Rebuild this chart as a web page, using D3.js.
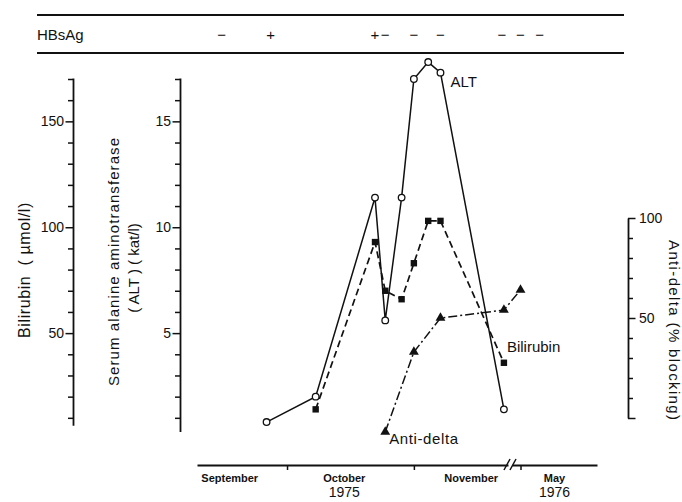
<!DOCTYPE html>
<html>
<head>
<meta charset="utf-8">
<script src="https://cdn.jsdelivr.net/npm/d3@7"></script>
<style>
  body { margin: 0; background: #fff; }
  svg text { font-family: "Liberation Sans", Arial, sans-serif; fill: #111; }
</style>
</head>
<body>
<script>
// dates as "yyyy-mm-dd", the day may be fractional (half a day)
const altDates = ["1975-09-26", "1975-10-08", "1975-10-22.5", "1975-10-25", "1975-10-29", "1975-11-01", "1975-11-04.5", "1975-11-07.5", "1975-11-23"];
const altValues = [0.8, 2.0, 11.4, 5.6, 11.4, 17.0, 17.8, 17.3, 1.4];

const biliDates = ["1975-10-08", "1975-10-22.5", "1975-10-25", "1975-10-29", "1975-11-01", "1975-11-04.5", "1975-11-07.5", "1975-11-23"];
const biliValues = [14, 93, 70, 66, 83, 103, 103, 36];

const antiDates = ["1975-10-25", "1975-11-01", "1975-11-07.5", "1975-11-23", "1976-05-01"];
const antiValues = [-7, 33, 50, 54, 64];

const hbsDates = ["1975-09-15", "1975-09-27", "1975-10-22.5", "1975-10-25", "1975-11-01", "1975-11-07.5", "1975-11-22.5", "1976-05-01", "1976-05-05.5"];
const hbsSigns = ["\u2212", "+", "+", "\u2212", "\u2212", "\u2212", "\u2212", "\u2212", "\u2212"];

const monthLabels = ["September", "October", "November", "May"];
const monthDates = ["1975-09-17", "1975-10-15", "1975-11-15", "1976-05-09"];
const yearLabels = ["1975", "1976"];
const yearDates = ["1975-10-15", "1976-05-09"];

const biliTicks = d3.range(10, 171, 10);
const altTicks = d3.range(1, 18, 1);
const antiTicks = d3.range(0, 101, 10);

function parseDay(s) {
  const [y, m, d] = s.split("-").map(Number);
  return new Date(Date.UTC(y, m - 1, 0) + d * 864e5);
}

const w = 682;
const h = 502;

const svg = d3.select("body")
  .append("svg")
  .attr("width", w)
  .attr("height", h);

// scales
const yBili = d3.scaleLinear().domain([0, 170]).range([439, 79]);
const yAlt = d3.scaleLinear().domain([0, 17]).range([439, 79]);
const yAnti = d3.scaleLinear().domain([0, 100]).range([418, 218]);

// broken time axis: autumn 1975, then May 1976
const x1 = d3.scaleUtc().domain([parseDay("1975-09-09"), parseDay("1975-11-24")]).range([197, 508]);
const x2 = d3.scaleUtc().domain([parseDay("1976-04-29"), parseDay("1976-05-19")]).range([512, 597]);
const cut = parseDay("1976-01-01");
const x = d => (d < cut ? x1(d) : x2(d));

const axisY = 465;

// header table
const header = svg.append("g");
[15, 53].forEach(yy => {
  header.append("line")
    .attr("x1", 37).attr("x2", 624)
    .attr("y1", yy).attr("y2", yy)
    .attr("stroke", "#111").attr("stroke-width", 1.8);
});
header.append("text")
  .attr("x", 37).attr("y", 40)
  .attr("font-size", 15)
  .text("HBsAg");
header.selectAll(".sign")
  .data(hbsSigns).enter()
  .append("text")
  .attr("x", (d, i) => x(parseDay(hbsDates[i])))
  .attr("y", 40)
  .attr("text-anchor", "middle")
  .attr("font-size", 15)
  .text(d => d);

// left axes
function styleAxis(g, major, attr) {
  g.select(".domain").attr("stroke", "#111").attr("stroke-width", 1.8);
  g.selectAll(".tick line").attr("stroke", "#111").attr("stroke-width", 1.5);
  g.selectAll(".tick text").attr("font-size", 14).attr("fill", "#111");
  g.selectAll(".tick").filter(d => major(d)).select("line")
    .attr(attr, function () { return +d3.select(this).attr(attr) * 1.5; });
}

const biliAxisScale = yBili.copy().domain([6.5, 170.5]).range([yBili(6.5), yBili(170.5)]);
svg.append("g")
  .attr("transform", "translate(73,0)")
  .call(d3.axisLeft(biliAxisScale).tickValues(biliTicks).tickSize(5).tickSizeOuter(0).tickPadding(4)
    .tickFormat(d => (d % 50 === 0 ? d : "")))
  .call(g => styleAxis(g, d => d % 50 === 0, "x2"));

const altAxisScale = yAlt.copy().domain([0.35, 17.05]).range([yAlt(0.35), yAlt(17.05)]);
svg.append("g")
  .attr("transform", "translate(180,0)")
  .call(d3.axisLeft(altAxisScale).tickValues(altTicks).tickSize(5).tickSizeOuter(0).tickPadding(4)
    .tickFormat(d => (d % 5 === 0 ? d : "")))
  .call(g => styleAxis(g, d => d % 5 === 0, "x2"));

// right axis
svg.append("g")
  .attr("transform", "translate(628,0)")
  .call(d3.axisRight(yAnti).tickValues(antiTicks).tickSize(5).tickSizeOuter(0).tickPadding(6)
    .tickFormat(d => (d % 50 === 0 && d > 0 ? d : "")))
  .call(g => styleAxis(g, d => d % 50 === 0, "x2"));

// axis titles
svg.append("text")
  .attr("transform", "translate(30,270) rotate(-90)")
  .attr("text-anchor", "middle")
  .attr("font-size", 16)
  .attr("letter-spacing", 0.6)
  .style("white-space", "pre")
  .text("Bilirubin  ( \u00b5mol/l)");
svg.append("text")
  .attr("transform", "translate(119,262) rotate(-90)")
  .attr("text-anchor", "middle")
  .attr("font-size", 15)
  .attr("textLength", 248).attr("lengthAdjust", "spacing")
  .text("Serum alanine aminotransferase");
svg.append("text")
  .attr("transform", "translate(139,268) rotate(-90)")
  .attr("text-anchor", "middle")
  .attr("font-size", 15)
  .style("white-space", "pre")
  .text("( ALT ) ( kat/l)");
svg.append("text")
  .attr("transform", "translate(669,330) rotate(90)")
  .attr("text-anchor", "middle")
  .attr("font-size", 15)
  .attr("textLength", 180).attr("lengthAdjust", "spacing")
  .text("Anti-delta (% blocking)");

// x axis (two pieces with a break)
const monthTicks1 = [parseDay("1975-10-01"), parseDay("1975-11-01")];
const monthTicks2 = [parseDay("1976-05-01")];
svg.append("g")
  .attr("transform", `translate(0,${axisY})`)
  .call(d3.axisBottom(x1).tickValues(monthTicks1).tickSize(5).tickSizeOuter(0).tickFormat(""))
  .call(g => styleAxis(g, () => false, "y2"));
svg.append("g")
  .attr("transform", `translate(0,${axisY})`)
  .call(d3.axisBottom(x2).tickValues(monthTicks2).tickSize(5).tickSizeOuter(0).tickFormat(""))
  .call(g => styleAxis(g, () => false, "y2"));

[x1.range()[1] - 1, x2.range()[0] + 1].forEach(bx => {
  svg.append("line")
    .attr("x1", bx - 3).attr("y1", axisY + 5)
    .attr("x2", bx + 3).attr("y2", axisY - 6)
    .attr("stroke", "#111").attr("stroke-width", 1.5);
});

svg.selectAll(".month")
  .data(monthLabels).enter()
  .append("text")
  .attr("x", (d, i) => x(parseDay(monthDates[i])))
  .attr("y", axisY + 17)
  .attr("text-anchor", "middle")
  .attr("font-size", 11)
  .attr("font-weight", "bold")
  .text(d => d);

svg.selectAll(".year")
  .data(yearLabels).enter()
  .append("text")
  .attr("x", (d, i) => x(parseDay(yearDates[i])))
  .attr("y", axisY + 32)
  .attr("text-anchor", "middle")
  .attr("font-size", 14)
  .text(d => d);

// series
const alt = altDates.map((d, i) => ({ date: parseDay(d), value: altValues[i] }));
const bili = biliDates.map((d, i) => ({ date: parseDay(d), value: biliValues[i] }));
const anti = antiDates.map((d, i) => ({ date: parseDay(d), value: antiValues[i] }));

const plot = svg.append("g");

plot.append("path")
  .datum(anti)
  .attr("fill", "none")
  .attr("stroke", "#111")
  .attr("stroke-width", 1.5)
  .attr("stroke-dasharray", "9,3,2,3")
  .attr("d", d3.line().x(d => x(d.date)).y(d => yAnti(d.value)));

plot.append("path")
  .datum(bili)
  .attr("fill", "none")
  .attr("stroke", "#111")
  .attr("stroke-width", 1.7)
  .attr("stroke-dasharray", "7,4")
  .attr("d", d3.line().x(d => x(d.date)).y(d => yBili(d.value)));

plot.append("path")
  .datum(alt)
  .attr("fill", "none")
  .attr("stroke", "#111")
  .attr("stroke-width", 1.5)
  .attr("d", d3.line().x(d => x(d.date)).y(d => yAlt(d.value)));

plot.selectAll(".tri")
  .data(anti).enter()
  .append("path")
  .attr("transform", d => `translate(${x(d.date)},${yAnti(d.value)})`)
  .attr("d", d3.symbol().type(d3.symbolTriangle).size(42))
  .attr("fill", "#111");

plot.selectAll(".sq")
  .data(bili).enter()
  .append("rect")
  .attr("x", d => x(d.date) - 3.2)
  .attr("y", d => yBili(d.value) - 3.2)
  .attr("width", 6.4)
  .attr("height", 6.4)
  .attr("fill", "#111");

plot.selectAll(".circ")
  .data(alt).enter()
  .append("circle")
  .attr("cx", d => x(d.date))
  .attr("cy", d => yAlt(d.value))
  .attr("r", 3.3)
  .attr("fill", "#fff")
  .attr("stroke", "#111")
  .attr("stroke-width", 1.3);

// series labels, placed beside a point of each series
const altLab = alt[7];
svg.append("text")
  .attr("x", x(altLab.date) + 10)
  .attr("y", yAlt(altLab.value) + 14)
  .attr("font-size", 15)
  .text("ALT");

const biliLab = bili[bili.length - 1];
svg.append("text")
  .attr("x", x(biliLab.date) + 3)
  .attr("y", yBili(biliLab.value) - 11)
  .attr("font-size", 15)
  .text("Bilirubin");

const antiLab = anti[0];
svg.append("text")
  .attr("x", x(antiLab.date) + 4)
  .attr("y", yAnti(antiLab.value) + 12)
  .attr("font-size", 15)
  .attr("letter-spacing", 0.6)
  .text("Anti-delta");
</script>
</body>
</html>
